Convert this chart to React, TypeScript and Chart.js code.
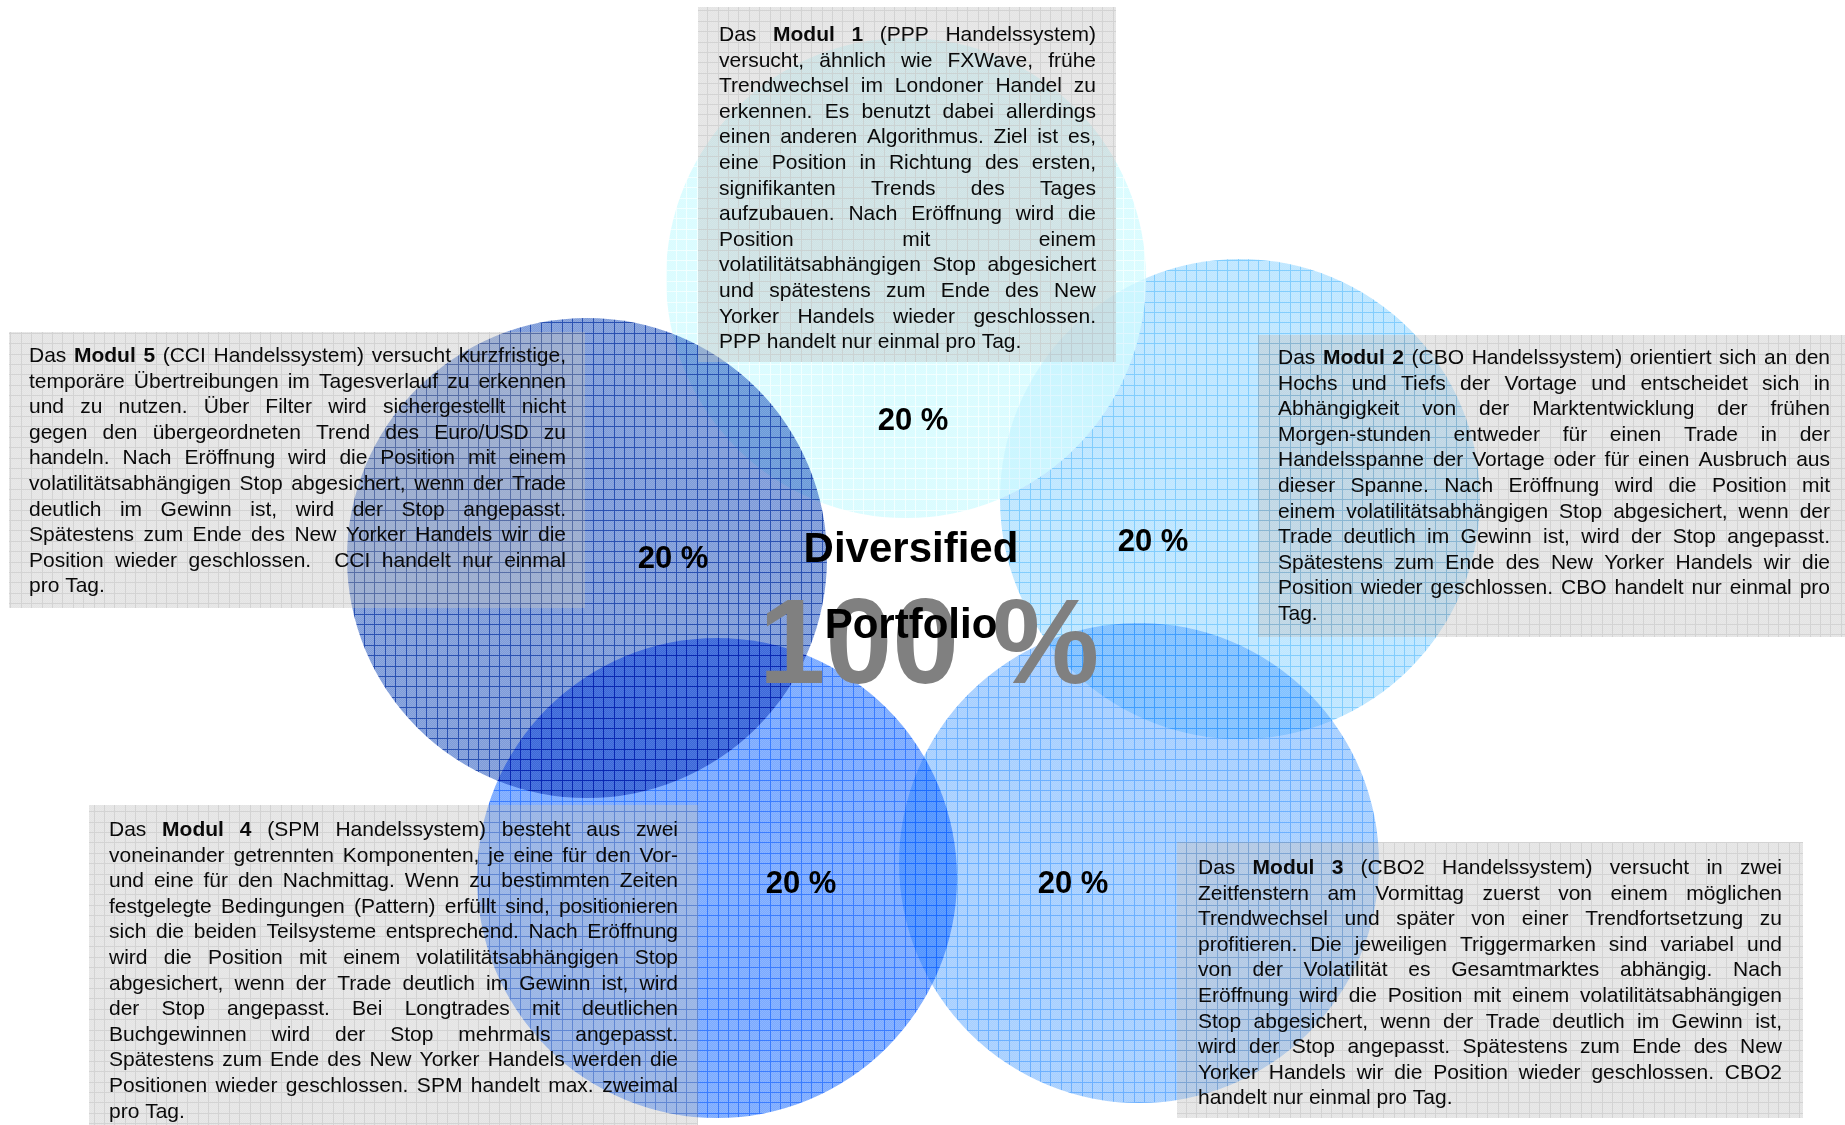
import React, { useEffect, useRef } from 'react';
import { Chart, registerables } from 'chart.js';

Chart.register(...registerables);

const W = 1845;
const H = 1125;

// ---------- data ----------
const modules = ['Modul 1', 'Modul 2', 'Modul 3', 'Modul 4', 'Modul 5'];
const shares = [20, 20, 20, 20, 20];
const circleX = [906, 1240, 1139, 717, 587];
const circleY = [278, 499, 863, 878, 558];
const circleR = [240, 240, 240, 240, 240];
const totalLabel = '100 %';
const titleLines = ['Diversified', 'Portfolio'];

const text1 = [
  'Das **Modul 1** (PPP Handelssystem)',
  'versucht, ähnlich wie FXWave, frühe',
  'Trendwechsel im Londoner Handel zu',
  'erkennen. Es benutzt dabei allerdings',
  'einen anderen Algorithmus. Ziel ist es,',
  'eine Position in Richtung des ersten,',
  'signifikanten Trends des Tages',
  'aufzubauen. Nach Eröffnung wird die',
  'Position mit einem',
  'volatilitätsabhängigen Stop abgesichert',
  'und spätestens zum Ende des New',
  'Yorker Handels wieder geschlossen.',
  'PPP handelt nur einmal pro Tag.',
];
const text2 = [
  'Das **Modul 2** (CBO Handelssystem) orientiert sich an den',
  'Hochs und Tiefs der Vortage und entscheidet sich in',
  'Abhängigkeit von der Marktentwicklung der frühen',
  'Morgen-stunden entweder für einen Trade in der',
  'Handelsspanne der Vortage oder für einen Ausbruch aus',
  'dieser Spanne. Nach Eröffnung wird die Position mit',
  'einem volatilitätsabhängigen Stop abgesichert, wenn der',
  'Trade deutlich im Gewinn ist, wird der Stop angepasst.',
  'Spätestens zum Ende des New Yorker Handels wir die',
  'Position wieder geschlossen. CBO handelt nur einmal pro',
  'Tag.',
];
const text3 = [
  'Das **Modul 3** (CBO2 Handelssystem) versucht in zwei',
  'Zeitfenstern am Vormittag zuerst von einem möglichen',
  'Trendwechsel und später von einer Trendfortsetzung zu',
  'profitieren. Die jeweiligen Triggermarken sind variabel und',
  'von der Volatilität es Gesamtmarktes abhängig. Nach',
  'Eröffnung wird die Position mit einem volatilitätsabhängigen',
  'Stop abgesichert, wenn der Trade deutlich im Gewinn ist,',
  'wird der Stop angepasst. Spätestens zum Ende des New',
  'Yorker Handels wir die Position wieder geschlossen. CBO2',
  'handelt nur einmal pro Tag.',
];
const text4 = [
  'Das **Modul 4** (SPM Handelssystem) besteht aus zwei',
  'voneinander getrennten Komponenten, je eine für den Vor-',
  'und eine für den Nachmittag. Wenn zu bestimmten Zeiten',
  'festgelegte Bedingungen (Pattern) erfüllt sind, positionieren',
  'sich die beiden Teilsysteme entsprechend. Nach Eröffnung',
  'wird die Position mit einem volatilitätsabhängigen Stop',
  'abgesichert, wenn der Trade deutlich im Gewinn ist, wird',
  'der Stop angepasst. Bei Longtrades mit deutlichen',
  'Buchgewinnen wird der Stop mehrmals angepasst.',
  'Spätestens zum Ende des New Yorker Handels werden die',
  'Positionen wieder geschlossen. SPM handelt max. zweimal',
  'pro Tag.',
];
const text5 = [
  'Das **Modul 5** (CCI Handelssystem) versucht kurzfristige,',
  'temporäre Übertreibungen im Tagesverlauf zu erkennen',
  'und zu nutzen. Über Filter wird sichergestellt nicht',
  'gegen den übergeordneten Trend des Euro/USD zu',
  'handeln. Nach Eröffnung wird die Position mit einem',
  'volatilitätsabhängigen Stop abgesichert, wenn der Trade',
  'deutlich im Gewinn ist, wird der Stop angepasst.',
  'Spätestens zum Ende des New Yorker Handels wir die',
  'Position wieder geschlossen.  CCI handelt nur einmal',
  'pro Tag.',
];
const moduleTexts = [text1, text2, text3, text4, text5];

// ---------- layout & style ----------
const FONT = '"Liberation Sans", Arial, Helvetica, sans-serif';
const labelPos = [
  [913, 419],
  [1153, 540],
  [1073, 882],
  [801, 882],
  [673, 557],
];
const boxes = [
  { x0: 698, y0: 7, x1: 1116, y1: 362, tx0: 719, tx1: 1096, base: 41 },
  { x0: 1258, y0: 335, x1: 1845, y1: 637, tx0: 1278, tx1: 1830, base: 364 },
  { x0: 1177, y0: 842, x1: 1803, y1: 1118, tx0: 1198, tx1: 1782, base: 874 },
  { x0: 89, y0: 805, x1: 698, y1: 1125, tx0: 109, tx1: 678, base: 836 },
  { x0: 9, y0: 332, x1: 585, y1: 608, tx0: 29, tx1: 566, base: 362 },
];
const LINE_H = 25.6;
const drawOrder = [2, 5, 4, 3, 1]; // chart.js: higher order drawn first (below)
const multiplyIndex = 4;

const cellColors = [
  [207, 251, 255, 0.8],
  [90, 192, 255, 0.4],
  [57, 148, 255, 0.45],
  [13, 100, 255, 0.55],
  [19, 73, 186, 0.55],
];
const lineColors = [
  [240, 255, 255, 0.85],
  [28, 164, 251, 0.55],
  [29, 133, 255, 0.65],
  [9, 91, 255, 0.8],
  [5, 50, 165, 0.85],
];
const boxCell = [195, 195, 195, 0.45];
const boxLine = [150, 150, 150, 0.42];

type RGBA = number[];

function makeTile(cell: RGBA, line: RGBA): HTMLCanvasElement {
  const size = 52;
  const c = document.createElement('canvas');
  c.width = size;
  c.height = size;
  const g = c.getContext('2d')!;
  const img = g.createImageData(size, size);
  const lines = new Set([0, 10, 21, 31, 42]);
  for (let y = 0; y < size; y++) {
    for (let x = 0; x < size; x++) {
      let col: RGBA;
      let a: number;
      if (lines.has(x) || lines.has(y)) {
        col = line;
        a = line[3];
      } else {
        col = cell;
        a = (x + y) % 2 === 0 ? cell[3] * 0.86 : cell[3];
      }
      const k = (y * size + x) * 4;
      img.data[k] = col[0];
      img.data[k + 1] = col[1];
      img.data[k + 2] = col[2];
      img.data[k + 3] = Math.round(a * 255);
    }
  }
  g.putImageData(img, 0, 0);
  return c;
}

type Word = { t: string; b: boolean };
function parseLine(s: string): Word[] {
  const words: Word[] = [];
  let bold = false;
  let cur = '';
  let curBold = false;
  let i = 0;
  while (i < s.length) {
    if (s.startsWith('**', i)) {
      bold = !bold;
      i += 2;
      continue;
    }
    const ch = s[i];
    if (ch === ' ') {
      words.push({ t: cur, b: curBold });
      cur = '';
      curBold = bold;
    } else {
      if (cur === '') curBold = bold;
      cur += ch;
    }
    i++;
  }
  words.push({ t: cur, b: curBold });
  return words;
}

export default function App() {
  const ref = useRef<HTMLCanvasElement | null>(null);

  useEffect(() => {
    const canvas = ref.current;
    if (!canvas) return;
    const ctx0 = canvas.getContext('2d')!;
    const circlePatterns = cellColors.map((c, i) =>
      ctx0.createPattern(makeTile(c, lineColors[i]), 'repeat')
    );
    const boxPattern = ctx0.createPattern(makeTile(boxCell, boxLine), 'repeat');

    const blend = {
      id: 'blend',
      beforeDatasetDraw(chart: any, args: any) {
        if (args.index === multiplyIndex) {
          chart.ctx.save();
          chart.ctx.globalCompositeOperation = 'multiply';
        }
      },
      afterDatasetDraw(chart: any, args: any) {
        if (args.index === multiplyIndex) chart.ctx.restore();
      },
    };

    const overlay = {
      id: 'overlay',
      afterDatasetsDraw(chart: any) {
        const ctx = chart.ctx as CanvasRenderingContext2D;
        const xs = chart.scales.x;
        const ys = chart.scales.y;
        const X = (v: number) => xs.getPixelForValue(v);
        const Y = (v: number) => ys.getPixelForValue(v);
        ctx.save();
        ctx.globalCompositeOperation = 'source-over';
        ctx.textBaseline = 'alphabetic';

        // big total
        ctx.fillStyle = '#808080';
        ctx.font = `bold 120px ${FONT}`;
        ctx.textAlign = 'center';
        ctx.fillText(totalLabel, X(929), Y(683));

        // title
        ctx.fillStyle = '#000';
        ctx.font = `bold 42px ${FONT}`;
        ctx.fillText(titleLines[0], X(911), Y(562));
        ctx.fillText(titleLines[1], X(911), Y(638));

        // text boxes
        boxes.forEach((b, i) => {
          ctx.fillStyle = boxPattern as any;
          ctx.fillRect(X(b.x0), Y(b.y0), X(b.x1) - X(b.x0), Y(b.y1) - Y(b.y0));
          const lines = moduleTexts[i];
          const left = X(b.tx0);
          const width = X(b.tx1) - left;
          ctx.fillStyle = '#0a0a0a';
          ctx.textAlign = 'left';
          ctx.font = `21px ${FONT}`;
          const spaceW = ctx.measureText(' ').width;
          lines.forEach((ln, li) => {
            const words = parseLine(ln);
            const widths = words.map((w) => {
              ctx.font = `${w.b ? 'bold ' : ''}21px ${FONT}`;
              return ctx.measureText(w.t).width;
            });
            const sum = widths.reduce((a, c) => a + c, 0);
            const last = li === lines.length - 1;
            const gap =
              !last && words.length > 1 ? (width - sum) / (words.length - 1) : spaceW;
            let x = left;
            const y = Y(b.base + li * LINE_H);
            words.forEach((w, wi) => {
              ctx.font = `${w.b ? 'bold ' : ''}21px ${FONT}`;
              if (w.t) ctx.fillText(w.t, x, y);
              x += widths[wi] + gap;
            });
          });
        });

        // share labels
        ctx.fillStyle = '#000';
        ctx.textAlign = 'center';
        ctx.font = `bold 31px ${FONT}`;
        shares.forEach((s, i) => {
          ctx.fillText(`${s} %`, X(labelPos[i][0]), Y(labelPos[i][1] + 11));
        });
        ctx.restore();
      },
    };

    const chart = new Chart(canvas, {
      type: 'scatter',
      data: {
        datasets: modules.map((m, i) => ({
          label: m,
          data: [{ x: circleX[i], y: circleY[i] }],
          order: drawOrder[i],
          pointStyle: 'circle',
          pointBackgroundColor: circlePatterns[i] as any,
          pointBorderWidth: 0,
          pointBorderColor: 'rgba(0,0,0,0)',
          pointRadius: (c: any) => {
            const s = c.chart.scales.x;
            return Math.abs(s.getPixelForValue(circleR[i]) - s.getPixelForValue(0));
          },
          pointHoverRadius: (c: any) => {
            const s = c.chart.scales.x;
            return Math.abs(s.getPixelForValue(circleR[i]) - s.getPixelForValue(0));
          },
        })),
      },
      options: {
        animation: false,
        responsive: false,
        maintainAspectRatio: false,
        devicePixelRatio: 1,
        events: [],
        layout: { padding: 0 },
        scales: {
          x: { type: 'linear', min: 0, max: W, display: false },
          y: { type: 'linear', min: 0, max: H, reverse: true, display: false },
        },
        plugins: {
          legend: { display: false },
          tooltip: { enabled: false },
        },
      } as any,
      plugins: [blend, overlay],
    });
    return () => chart.destroy();
  }, []);

  return (
    <div
      style={{
        position: 'absolute',
        left: 0,
        top: 0,
        width: W,
        height: H,
        background: '#ffffff',
      }}
    >
      <canvas ref={ref} width={W} height={H} style={{ display: 'block', width: W, height: H }} />
    </div>
  );
}
